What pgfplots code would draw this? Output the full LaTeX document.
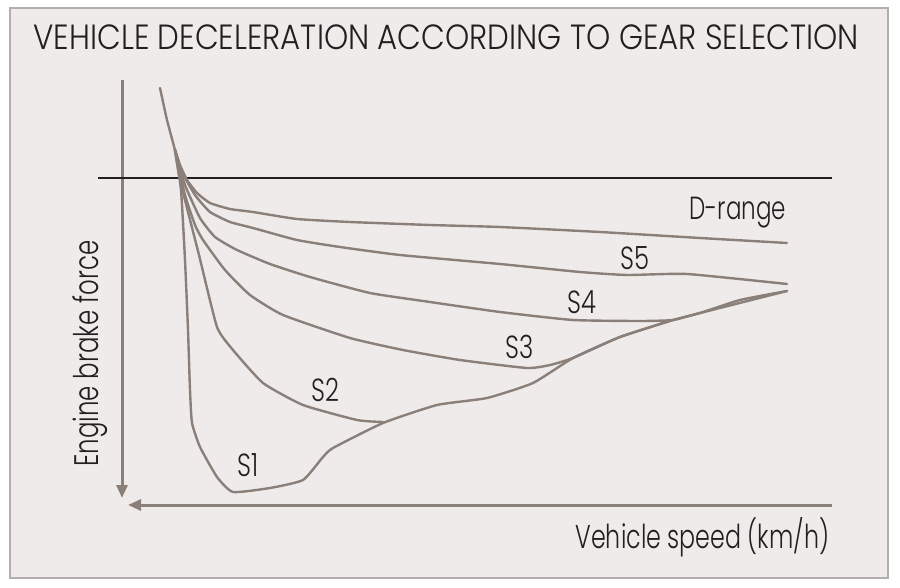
\documentclass[border=0pt]{standalone}
\usepackage{fontspec}
\IfFontExistsTF{Poppins Light}{%
  \setmainfont{Poppins Light}%
  \newfontfamily\titlefont{Poppins Light}[FakeStretch=0.88]%
  \newfontfamily\labfont{Poppins Light}[FakeStretch=0.72]%
  \newfontfamily\curvefont{Poppins Light}[FakeStretch=0.76]%
}{%
  \setmainfont{Lato}%
  \newfontfamily\titlefont{Lato}[FakeStretch=0.9]%
  \newfontfamily\labfont{Lato}[FakeStretch=0.8]%
  \newfontfamily\curvefont{Lato}[FakeStretch=0.82]%
}
\usepackage{pgfplots}
\pgfplotsset{compat=1.18}
\usetikzlibrary{arrows.meta}
\definecolor{bg}{HTML}{EFEBEA}
\definecolor{curve}{HTML}{8A7F79}
\definecolor{frame}{HTML}{B3AEAB}
\definecolor{ink}{HTML}{231F20}
\tikzset{gear/.style={draw=curve, line width=2.4pt, line join=round, line cap=round, smooth, tension=0.3, mark=none}}
\begin{document}
\begin{tikzpicture}
\begin{axis}[
  width=900pt, height=588pt, scale only axis,
  xmin=0, xmax=900, ymin=0, ymax=588, y dir=reverse,
  hide axis, clip=false,
]
\path (axis cs:0,0) rectangle (axis cs:900,588);
\draw[draw=frame, line width=1.5pt, fill=bg] (axis cs:10,8) rectangle (axis cs:888,578);
% axes
\draw[curve, line width=3pt, -{Triangle[length=13pt,width=11pt]}] (axis cs:122,80) -- (axis cs:122,498);
\draw[curve, line width=3pt, -{Triangle[length=13pt,width=11pt]}] (axis cs:832,505) -- (axis cs:128,505);
\draw[ink, line width=2pt] (axis cs:98,178) -- (axis cs:832,178);

\addplot[gear] coordinates {(160,88) (167,120) (175,150)};
% D-range
\addplot[gear] coordinates {(175,150) (180,165) (187,180) (197,193) (210,203) (230,209) (253,212) (297,219) (350,222) (430,225) (500,227) (600,232) (700,238) (787,243)};
% S5
\addplot[gear] coordinates {(175,150) (182,172) (195,195) (210,212) (230,222) (253,228) (297,240) (340,247) (400,255) (500,264) (580,272) (627,275) (687,274) (787,284)};
% S4
\addplot[gear] coordinates {(175,150) (185,185) (200,218) (215,237) (237,250) (270,264) (310,277) (370,293) (430,302) (500,312) (573,320) (640,321) (673,320) (700,313) (787,291)};
% S3
\addplot[gear] coordinates {(175,150) (185,195) (195,225) (203,240) (225,270) (250,295) (283,315) (350,338) (403,350) (460,360) (527,368) (550,365) (573,358) (620,337) (673,320)};
% S2
\addplot[gear] coordinates {(175,150) (180,180) (199,255) (217,327) (233,350) (263,383) (303,405) (357,420) (383,422)};
% S1
\addplot[gear] coordinates {(175,150) (181,190) (185,260) (188,330) (190,390) (192,423) (200,447) (217,477) (233,492) (270,488) (303,480) (323,457) (333,448) (383,423) (437,405) (487,398) (533,383) (573,358) (620,337) (673,320) (700,313) (740,300) (787,291)};

\node[ink, anchor=base west, font=\titlefont\fontsize{35}{40}\selectfont] at (axis cs:30,50) {VEHICLE DECELERATION ACCORDING TO GEAR SELECTION};
\node[ink, anchor=base west, font=\labfont\fontsize{33}{38}\selectfont] at (axis cs:572,548) {Vehicle speed (km/h)};
\node[ink, anchor=base west, rotate=90, font=\labfont\fontsize{34}{38}\selectfont] at (axis cs:98,470) {Engine brake force};
\node[ink, font=\labfont\fontsize{32}{38}\selectfont] at (axis cs:738,213) {D-range};
\node[ink, font=\curvefont\fontsize{32}{38}\selectfont] at (axis cs:635,258) {S5};
\node[ink, font=\curvefont\fontsize{32}{38}\selectfont] at (axis cs:582,302) {S4};
\node[ink, font=\curvefont\fontsize{32}{38}\selectfont] at (axis cs:520,347) {S3};
\node[ink, font=\curvefont\fontsize{32}{38}\selectfont] at (axis cs:325,390) {S2};
\node[ink, font=\curvefont\fontsize{32}{38}\selectfont] at (axis cs:248,465) {S1};
\end{axis}
\end{tikzpicture}
\end{document}
